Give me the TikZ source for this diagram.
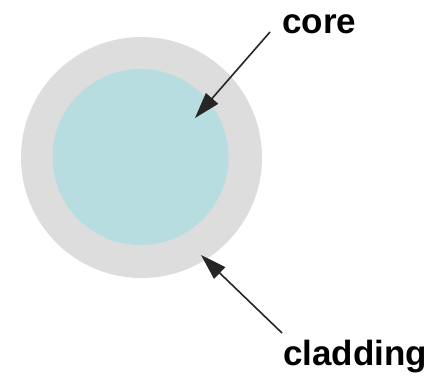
\documentclass[tikz,border=0pt]{standalone}
\usepackage{fontspec}
\setmainfont{Liberation Sans}
\usetikzlibrary{arrows.meta}
\definecolor{claddinggray}{RGB}{221,221,221}
\definecolor{corecyan}{RGB}{183,221,224}
\tikzset{
  label text/.style={font=\fontsize{35}{40}\selectfont\bfseries, inner sep=0pt, anchor=base west},
  pointer/.style={draw=black!85, line width=1.6pt, -{Triangle[length=26pt,width=16pt]}},
}
\begin{document}
\begin{tikzpicture}[x=1pt,y=-1pt]
  \useasboundingbox (0,0) rectangle (433,375);
  % fibre cross-section
  \node[circle, fill=claddinggray, minimum size=241pt, inner sep=0pt] (clad) at (141.5,157.5) {};
  \node[circle, fill=corecyan, minimum size=176pt, inner sep=0pt] (core) at (140.5,157) {};
  % labels
  \node[label text] (coreLbl) at (282,33) {core};
  \node[label text] (cladLbl) at (283,365) {cladding};
  % pointer ends
  \coordinate (coreStart) at (270,32);
  \coordinate (coreTip) at (195,118);
  \coordinate (cladStart) at (282,333);
  \coordinate (cladTip) at (201,255);
  \draw[pointer] (coreStart) -- (coreTip);
  \draw[pointer] (cladStart) -- (cladTip);
\end{tikzpicture}
\end{document}
